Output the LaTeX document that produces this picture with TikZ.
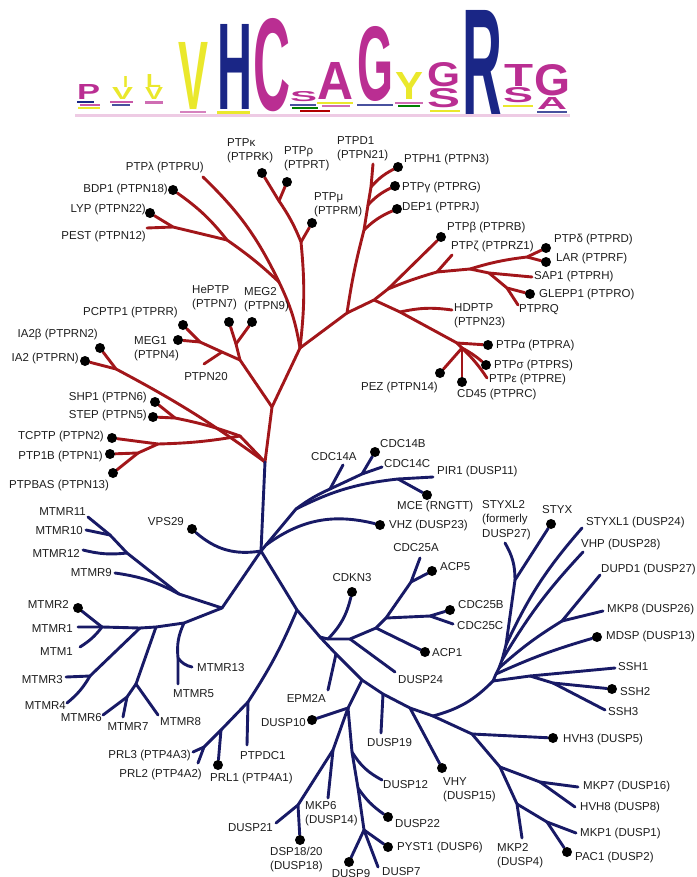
\documentclass[tikz,border=0pt]{standalone}
\usepackage{fontspec}
\setmainfont{Liberation Sans}
\usepackage{tikz}
\usetikzlibrary{positioning, backgrounds}
\definecolor{cptp} {RGB}{162, 22, 26}
\definecolor{cdsp} {RGB}{ 24, 26,102}
\definecolor{cmag} {RGB}{186, 46,146}
\definecolor{cyel} {RGB}{234,232, 44}
\definecolor{cnavy}{RGB}{ 26, 38,134}
\definecolor{ctext}{RGB}{ 30, 30, 30}
\newcommand{\logochar}[4]{\resizebox{#1pt}{#2pt}{\textcolor{#3}{\bfseries #4}}}
\tikzset{
  ptp/.style={draw=cptp, line width=2.9pt, line cap=round, line join=round},
  dsp/.style={draw=cdsp, line width=2.9pt, line cap=round, line join=round},
  leaf/.style={circle, fill=black, minimum size=10pt, inner sep=0pt},
  lbl/.style={font=\fontsize{11.5}{14}\selectfont, text=ctext, inner sep=0pt, align=left},
  glyph/.style={inner sep=0pt, anchor=south west},
}
\begin{document}
\begin{tikzpicture}[x=1pt, y=-1pt]
  \useasboundingbox (0,0) rectangle (696,877);

  % ── Sequence logo ──────────────────────────────────────────────────────────
  \node[glyph] (lg1)   at (77,100)  {\logochar{23}{15}{cmag}{P}};
  \node[glyph] (lg2a)  at (123,88)  {\logochar{5}{11}{cyel}{I}};
  \node[glyph] (lg2b)  at (112,100) {\logochar{21}{12}{cyel}{V}};
  \node[glyph] (lg3a)  at (146,88)  {\logochar{15}{13}{cyel}{L}};
  \node[glyph] (lg3b)  at (145,100) {\logochar{18}{12}{cyel}{V}};
  \node[glyph] (lg4)   at (178,110) {\logochar{30}{67}{cyel}{V}};
  \node[glyph] (lg5)   at (217,110) {\logochar{35}{85}{cnavy}{H}};
  \node[glyph] (lg6)   at (253,112) {\logochar{37}{92}{cmag}{C}};
  \node[glyph] (lg7)   at (290,102) {\logochar{27}{10}{cmag}{S}};
  \node[glyph] (lg8)   at (317,100) {\logochar{36}{37}{cmag}{A}};
  \node[glyph] (lg9)   at (357,102) {\logochar{36}{74}{cmag}{G}};
  \node[glyph] (lg10)  at (395,100) {\logochar{28}{27}{cyel}{Y}};
  \node[glyph] (lg11a) at (427,87)  {\logochar{33}{24}{cmag}{G}};
  \node[glyph] (lg11b) at (427,108) {\logochar{33}{19}{cmag}{S}};
  \node[glyph] (lg12)  at (462,117) {\logochar{40}{106}{cnavy}{R}};
  \node[glyph] (lg13a) at (504,87)  {\logochar{29}{22}{cmag}{T}};
  \node[glyph] (lg13b) at (503,103) {\logochar{30}{15}{cmag}{S}};
  \node[glyph] (lg14a) at (534,96)  {\logochar{36}{31}{cmag}{G}};
  \node[glyph] (lg14b) at (537,110) {\logochar{30}{12}{cmag}{A}};
  % small residues under the letters
  \fill[cnavy]          (77,101)  rectangle (94,103);
  \fill[cmag!80]        (80,104)  rectangle (100,106);
  \fill[cyel]           (78,107)  rectangle (100,109);
  \fill[cmag!80]        (110,101) rectangle (133,103);
  \fill[cnavy!80]       (112,104) rectangle (130,106);
  \fill[cmag!70]        (145,101) rectangle (163,104);
  \fill[cmag!60]        (180,111) rectangle (206,113);
  \fill[cyel]           (217,111) rectangle (250,114);
  \fill[cnavy!80]       (290,104) rectangle (316,106);
  \fill[green!50!black] (292,107) rectangle (318,109);
  \fill[red!70!black]   (300,110) rectangle (330,112);
  \fill[cyel]           (317,102) rectangle (353,104);
  \fill[cmag!70]        (322,105) rectangle (350,107);
  \fill[cnavy!80]       (357,104) rectangle (393,106);
  \fill[cmag!70]        (395,102) rectangle (423,104);
  \fill[green!50!black] (398,105) rectangle (420,107);
  \fill[cyel]           (430,110) rectangle (460,112);
  \fill[cyel]           (503,105) rectangle (533,107);
  \fill[cnavy!80]       (537,111) rectangle (567,113);
  \fill[cmag!25]        (75,114)  rectangle (570,117);

  % ── Leaves: PTP clade ──────────────────────────────────────────────────────
  \node[leaf] (ptpk)   at (262,173) {};
  \node[leaf] (ptprho) at (287,182) {};
  \node[leaf] (ptpmu)  at (312,223) {};
  \node[leaf] (ptph1)  at (398,167) {};
  \node[leaf] (ptpg)   at (395,186) {};
  \node[leaf] (dep1)   at (397,209) {};
  \node[leaf] (ptpb)   at (441,237) {};
  \node[leaf] (ptpd)   at (546,248) {};
  \node[leaf] (lar)    at (546,262) {};
  \node[leaf] (glepp1) at (530,294) {};
  \node[leaf] (ptpa)   at (488,345) {};
  \node[leaf] (ptps)   at (486,365) {};
  \node[leaf] (cd45)   at (462,382) {};
  \node[leaf] (pez)    at (440,373) {};
  \node[leaf] (bdp1)   at (173,190) {};
  \node[leaf] (lyp)    at (150,213) {};
  \node[leaf] (pcptp1) at (183,325) {};
  \node[leaf] (meg1)   at (178,340) {};
  \node[leaf] (heptp)  at (229,322) {};
  \node[leaf] (meg2)   at (252,322) {};
  \node[leaf] (ia2b)   at (100,348) {};
  \node[leaf] (ia2)    at (85,361)  {};
  \node[leaf] (shp1)   at (155,402) {};
  \node[leaf] (ptpn5)  at (153,417) {};
  \node[leaf] (tcptp)  at (112,438) {};
  \node[leaf] (ptp1b)  at (110,454) {};
  \node[leaf] (ptpbas) at (113,473) {};
  \coordinate (ptpl)   at (203,177);
  \coordinate (pest)   at (147,228);
  \coordinate (ptpd1)  at (373,164);
  \coordinate (ptpz)   at (452,255);
  \coordinate (sap1)   at (532,277);
  \coordinate (ptprq)  at (518,305);
  \coordinate (hdptp)  at (452,310);
  \coordinate (ptpe)   at (487,378);
  \coordinate (ptpn20) at (204,364);

  % ── Leaves: DSP clade ──────────────────────────────────────────────────────
  \node[leaf] (vps29)  at (192,529) {};
  \node[leaf] (cdc14b) at (375,452) {};
  \node[leaf] (mce)    at (427,495) {};
  \node[leaf] (vhz)    at (380,525) {};
  \node[leaf] (styx)   at (551,524) {};
  \node[leaf] (mdsp)   at (597,637) {};
  \node[leaf] (ssh2)   at (612,689) {};
  \node[leaf] (cdkn3)  at (352,592) {};
  \node[leaf] (acp5)   at (432,571) {};
  \node[leaf] (cdc25b) at (450,610) {};
  \node[leaf] (acp1)   at (425,652) {};
  \node[leaf] (mtmr2)  at (78,608)  {};
  \node[leaf] (prl1)   at (218,765) {};
  \node[leaf] (dusp10) at (312,720) {};
  \node[leaf] (vhy)    at (442,768) {};
  \node[leaf] (hvh3)   at (553,738) {};
  \node[leaf] (pac1)   at (567,852) {};
  \node[leaf] (dusp22) at (388,817) {};
  \node[leaf] (pyst1)  at (388,847) {};
  \node[leaf] (dusp9)  at (349,862) {};
  \node[leaf] (dsp18)  at (300,840) {};
  \coordinate (cdc14a) at (343,465);
  \coordinate (cdc14c) at (382,467);
  \coordinate (pir1)   at (433,477);
  \coordinate (styxl2) at (505,543);
  \coordinate (styxl1) at (582,528);
  \coordinate (vhp)    at (583,552);
  \coordinate (dupd1)  at (600,575);
  \coordinate (mkp8)   at (603,611);
  \coordinate (ssh1)   at (615,668);
  \coordinate (ssh3)   at (605,710);
  \coordinate (cdc25a) at (420,558);
  \coordinate (cdc25c) at (453,624);
  \coordinate (dusp24) at (395,672);
  \coordinate (mtmr11) at (88,517);
  \coordinate (mtmr10) at (86,530);
  \coordinate (mtmr12) at (83,550);
  \coordinate (mtmr9)  at (115,573);
  \coordinate (mtmr1)  at (78,627);
  \coordinate (mtm1)   at (80,647);
  \coordinate (mtmr3)  at (66,677);
  \coordinate (mtmr4)  at (67,703);
  \coordinate (mtmr6)  at (103,715);
  \coordinate (mtmr7)  at (123,717);
  \coordinate (mtmr8)  at (158,715);
  \coordinate (mtmr5)  at (178,684);
  \coordinate (mtmr13) at (192,667);
  \coordinate (prl3)   at (193,752);
  \coordinate (prl2)   at (198,763);
  \coordinate (ptpdc1) at (247,745);
  \coordinate (epm2a)  at (328,690);
  \coordinate (dusp19) at (381,733);
  \coordinate (mkp7)   at (578,787);
  \coordinate (hvh8)   at (575,807);
  \coordinate (mkp1)   at (576,833);
  \coordinate (mkp2)   at (522,838);
  \coordinate (dusp12) at (382,780);
  \coordinate (dusp7)  at (378,867);
  \coordinate (mkp6)   at (328,798);
  \coordinate (dusp21) at (276,823);

  % ── Junctions ──────────────────────────────────────────────────────────────
  \coordinate (r0)   at (265,462);  \coordinate (rl)   at (272,407);
  \coordinate (rt)   at (300,348);  \coordinate (jia)  at (116,369);
  \coordinate (jsh)  at (240,436);  \coordinate (jss)  at (175,418);
  \coordinate (jtc)  at (158,444);  \coordinate (jpb)  at (138,453);
  \coordinate (rlm)  at (279,282);  \coordinate (rbd)  at (227,240);
  \coordinate (rlp)  at (173,227);  \coordinate (jmu)  at (301,242);
  \coordinate (jrho) at (279,201);  \coordinate (rd)   at (347,313);
  \coordinate (jdep) at (364,230);  \coordinate (jgam) at (368,205);
  \coordinate (jh1)  at (371,187);  \coordinate (ra)   at (374,300);
  \coordinate (rb)   at (388,289);  \coordinate (jz)   at (437,272);
  \coordinate (jsg)  at (470,269);  \coordinate (jdl)  at (527,257);
  \coordinate (jsap) at (489,273);  \coordinate (jgl)  at (507,288);
  \coordinate (jhd)  at (400,312);  \coordinate (rp)   at (457,343);
  \coordinate (jpz)  at (462,348);  \coordinate (jhe)  at (240,360);
  \coordinate (jm2)  at (236,344);  \coordinate (jn20) at (222,352);
  \coordinate (jpc)  at (200,342);

  \coordinate (b0)   at (261,551);  \coordinate (bu)   at (266,545);
  \coordinate (bp)   at (296,509);  \coordinate (j14a) at (330,489);
  \coordinate (j14bc) at (362,474); \coordinate (jpm)  at (398,479);
  \coordinate (bm)   at (222,608);  \coordinate (jm9)  at (179,594);
  \coordinate (jm12) at (127,553);  \coordinate (jm10) at (110,535);
  \coordinate (jm13) at (184,623);  \coordinate (jm678) at (156,627);
  \coordinate (jm34) at (140,628);  \coordinate (jm1)  at (102,627);
  \coordinate (jm135) at (178,658); \coordinate (jm8)  at (136,684);
  \coordinate (jm67) at (127,697);  \coordinate (jm3)  at (90,676);
  \coordinate (mprl) at (297,610);  \coordinate (mcdc) at (320,637);
  \coordinate (mepm) at (336,654);  \coordinate (md0)  at (362,680);
  \coordinate (md19) at (383,694);  \coordinate (mvhy) at (410,708);
  \coordinate (m0)   at (433,716);  \coordinate (pj)   at (248,702);
  \coordinate (p1)   at (221,730);  \coordinate (p23)  at (204,747);
  \coordinate (ck)   at (328,639);  \coordinate (c24)  at (350,639);
  \coordinate (ca1)  at (376,628);  \coordinate (cbc)  at (386,618);
  \coordinate (jbc)  at (430,616);  \coordinate (c6)   at (411,582);
  \coordinate (dj)   at (348,708);  \coordinate (dk)   at (333,750);
  \coordinate (dd)   at (298,805);  \coordinate (dl)   at (352,752);
  \coordinate (dm)   at (358,788);  \coordinate (dn)   at (364,830);
  \coordinate (mk3)  at (472,734);  \coordinate (mk7)  at (500,767);
  \coordinate (jk78) at (540,782);  \coordinate (mk1)  at (517,804);
  \coordinate (jk12) at (547,822);  \coordinate (sf)   at (493,681);
  \coordinate (ss)   at (530,676);  \coordinate (s23)  at (553,683);
  \coordinate (sm)   at (496,674);  \coordinate (sd)   at (499,668);
  \coordinate (sv)   at (502,660);  \coordinate (sl)   at (506,645);
  \coordinate (sx)   at (515,580);  \coordinate (jdk)  at (562,621);

  % ── Branches ───────────────────────────────────────────────────────────────
  \begin{scope}[on background layer]
    % PTP trunk and lower groups
    \draw[ptp] (r0) -- (rl) -- (rt);
    \draw[ptp] (r0) to[bend right=4] (jia) -- (ia2);
    \draw[ptp] (jia) -- (ia2b);
    \draw[ptp] (r0) -- (jsh) to[bend right=4] (jss) -- (ptpn5);
    \draw[ptp] (jss) -- (shp1);
    \draw[ptp] (jsh) to[bend left=4] (jtc) -- (tcptp);
    \draw[ptp] (jtc) -- (jpb) -- (ptp1b);
    \draw[ptp] (jpb) -- (ptpbas);
    % PTP upper left
    \draw[ptp] (rt) to[bend right=8] (rlm) to[bend right=10] (ptpl);
    \draw[ptp] (rlm) to[bend right=4] (rbd) to[bend right=8] (bdp1);
    \draw[ptp] (rbd) -- (rlp) -- (lyp);
    \draw[ptp] (rlp) -- (pest);
    \draw[ptp] (rt) to[bend right=6] (jmu) to[bend right=6] (jrho) -- (ptpk);
    \draw[ptp] (jrho) -- (ptprho);
    \draw[ptp] (jmu) -- (ptpmu);
    % PTP right
    \draw[ptp] (rt) -- (rd) to[bend left=3] (jdep) -- (jgam) -- (jh1) -- (ptpd1);
    \draw[ptp] (jdep) to[bend left=10] (dep1);
    \draw[ptp] (jgam) to[bend left=10] (ptpg);
    \draw[ptp] (jh1) to[bend left=10] (ptph1);
    \draw[ptp] (rd) -- (ra) -- (rb) -- (ptpb);
    \draw[ptp] (rb) to[bend left=3] (jz) -- (jsg) to[bend left=5] (jdl) -- (ptpd);
    \draw[ptp] (jdl) -- (lar);
    \draw[ptp] (jz) -- (ptpz);
    \draw[ptp] (jsg) -- (jsap) -- (sap1);
    \draw[ptp] (jsap) -- (jgl) -- (glepp1);
    \draw[ptp] (jgl) -- (ptprq);
    \draw[ptp] (ra) -- (jhd) -- (rp) -- (ptpa);
    \draw[ptp] (jhd) to[bend left=10] (hdptp);
    \draw[ptp] (rp) -- (jpz) -- (pez);
    \draw[ptp] (jpz) -- (cd45);
    \draw[ptp] (jpz) to[bend left=6] (ptps);
    \draw[ptp] (jpz) to[bend left=6] (ptpe);
    % PTP middle left
    \draw[ptp] (rl) -- (jhe) -- (jm2) -- (heptp);
    \draw[ptp] (jm2) -- (meg2);
    \draw[ptp] (jhe) -- (jn20) -- (jpc) -- (pcptp1);
    \draw[ptp] (jpc) -- (meg1);
    \draw[ptp] (jn20) -- (ptpn20);

    % DSP trunk
    \draw[dsp] (r0) -- (b0);
    \draw[dsp] (b0) to[bend left=25] (vps29);
    \draw[dsp] (b0) -- (bu) to[bend left=25] (vhz);
    \draw[dsp] (bu) -- (bp) to[bend left=6] (j14a) -- (j14bc) -- (cdc14c);
    \draw[dsp] (j14a) -- (cdc14a);
    \draw[dsp] (j14bc) -- (cdc14b);
    \draw[dsp] (bp) to[bend left=10] (jpm) -- (pir1);
    \draw[dsp] (jpm) -- (mce);
    % myotubularins
    \draw[dsp] (b0) -- (bm) -- (jm9) to[bend right=10] (mtmr9);
    \draw[dsp] (jm9) -- (jm12) -- (jm10) -- (mtmr11);
    \draw[dsp] (jm10) -- (mtmr10);
    \draw[dsp] (jm12) to[bend left=10] (mtmr12);
    \draw[dsp] (bm) -- (jm13) -- (jm678) -- (jm34) -- (jm1) -- (mtmr1);
    \draw[dsp] (jm1) -- (mtmr2);
    \draw[dsp] (jm1) to[bend left=10] (mtm1);
    \draw[dsp] (jm13) to[bend right=15] (jm135) -- (mtmr5);
    \draw[dsp] (jm135) to[bend right=20] (mtmr13);
    \draw[dsp] (jm678) -- (jm8) -- (mtmr8);
    \draw[dsp] (jm8) -- (jm67) -- (mtmr6);
    \draw[dsp] (jm67) -- (mtmr7);
    \draw[dsp] (jm34) -- (jm3) -- (mtmr3);
    \draw[dsp] (jm3) to[bend left=10] (mtmr4);
    % main line
    \draw[dsp] (b0) -- (mprl) -- (mcdc) -- (mepm) -- (md0) -- (md19) -- (mvhy) -- (m0);
    \draw[dsp] (mprl) to[bend left=5] (pj) -- (p1) -- (p23) -- (prl3);
    \draw[dsp] (pj) -- (ptpdc1);
    \draw[dsp] (p1) -- (prl1);
    \draw[dsp] (p23) -- (prl2);
    \draw[dsp] (mepm) -- (epm2a);
    % CDC25 group
    \draw[dsp] (mcdc) -- (ck) -- (c24) -- (ca1) -- (cbc) -- (c6) -- (cdc25a);
    \draw[dsp] (ck) to[bend right=15] (cdkn3);
    \draw[dsp] (c24) -- (dusp24);
    \draw[dsp] (ca1) -- (acp1);
    \draw[dsp] (cbc) -- (jbc) -- (cdc25b);
    \draw[dsp] (jbc) -- (cdc25c);
    \draw[dsp] (c6) -- (acp5);
    % atypical DUSPs
    \draw[dsp] (md0) -- (dj) -- (dusp10);
    \draw[dsp] (dj) -- (dk) -- (dd) -- (dusp21);
    \draw[dsp] (dk) -- (mkp6);
    \draw[dsp] (dd) -- (dsp18);
    \draw[dsp] (dj) -- (dl) -- (dm) -- (dn) -- (dusp9);
    \draw[dsp] (dl) to[bend right=15] (dusp12);
    \draw[dsp] (dm) to[bend right=10] (dusp22);
    \draw[dsp] (dn) -- (pyst1);
    \draw[dsp] (dn) -- (dusp7);
    \draw[dsp] (md19) -- (dusp19);
    \draw[dsp] (mvhy) -- (vhy);
    % MKPs
    \draw[dsp] (m0) -- (mk3) -- (mk7) -- (mk1) -- (mkp2);
    \draw[dsp] (mk3) -- (hvh3);
    \draw[dsp] (mk7) -- (jk78) -- (mkp7);
    \draw[dsp] (jk78) -- (hvh8);
    \draw[dsp] (mk1) -- (jk12) -- (mkp1);
    \draw[dsp] (jk12) -- (pac1);
    % STYX / SSH fan
    \draw[dsp] (m0) to[bend right=15] (sf) -- (sm) -- (sd) -- (sv) -- (sl) -- (sx) -- (styx);
    \draw[dsp] (sx) to[bend right=15] (styxl2);
    \draw[dsp] (sl) to[bend left=8] (styxl1);
    \draw[dsp] (sv) to[bend left=6] (vhp);
    \draw[dsp] (sd) to[bend left=5] (jdk) -- (dupd1);
    \draw[dsp] (jdk) -- (mkp8);
    \draw[dsp] (sm) to[bend left=4] (mdsp);
    \draw[dsp] (sf) -- (ss) -- (ssh1);
    \draw[dsp] (ss) -- (s23) -- (ssh2);
    \draw[dsp] (s23) -- (ssh3);
  \end{scope}

  % ── Labels: PTP clade ──────────────────────────────────────────────────────
  \node[lbl, anchor=west] (t-ptpk)   at (227,151) {PTPκ\\(PTPRK)};
  \node[lbl, anchor=west] (t-ptprho) at (284,159) {PTPρ\\(PTPRT)};
  \node[lbl, anchor=west] (t-ptpd1)  at (337,149) {PTPD1\\(PTPN21)};
  \node[lbl, anchor=west] (t-ptpmu)  at (314,205) {PTPμ\\(PTPRM)};
  \node[lbl, anchor=east] (t-ptpl)   at (204,168) {PTPλ (PTPRU)};
  \node[lbl, anchor=east] (t-bdp1)   at (168,190) {BDP1 (PTPN18)};
  \node[lbl, anchor=east] (t-lyp)    at (146,210) {LYP (PTPN22)};
  \node[lbl, anchor=east] (t-pest)   at (146,237) {PEST (PTPN12)};
  \node[lbl, anchor=west] (t-ptph1)  at (404,160) {PTPH1 (PTPN3)};
  \node[lbl, anchor=west] (t-ptpg)   at (402,188) {PTPγ (PTPRG)};
  \node[lbl, anchor=west] (t-dep1)   at (402,208) {DEP1 (PTPRJ)};
  \node[lbl, anchor=west] (t-ptpb)   at (447,228) {PTPβ (PTPRB)};
  \node[lbl, anchor=west] (t-ptpz)   at (451,247) {PTPζ (PTPRZ1)};
  \node[lbl, anchor=west] (t-ptpd)   at (554,240) {PTPδ (PTPRD)};
  \node[lbl, anchor=west] (t-lar)    at (556,259) {LAR (PTPRF)};
  \node[lbl, anchor=west] (t-sap1)   at (534,277) {SAP1 (PTPRH)};
  \node[lbl, anchor=west] (t-glepp1) at (539,295) {GLEPP1 (PTPRO)};
  \node[lbl, anchor=west] (t-ptprq)  at (519,310) {PTPRQ};
  \node[lbl, anchor=west] (t-hdptp)  at (454,316) {HDPTP\\(PTPN23)};
  \node[lbl, anchor=west] (t-ptpa)   at (496,346) {PTPα (PTPRA)};
  \node[lbl, anchor=west] (t-ptps)   at (494,366) {PTPσ (PTPRS)};
  \node[lbl, anchor=west] (t-ptpe)   at (489,380) {PTPε (PTPRE)};
  \node[lbl, anchor=west] (t-cd45)   at (457,395) {CD45 (PTPRC)};
  \node[lbl, anchor=east] (t-pez)    at (438,388) {PEZ (PTPN14)};
  \node[lbl, anchor=west] (t-heptp)  at (192,298) {HePTP\\(PTPN7)};
  \node[lbl, anchor=west] (t-meg2)   at (244,300) {MEG2\\(PTPN9)};
  \node[lbl, anchor=east] (t-pcptp1) at (178,313) {PCPTP1 (PTPRR)};
  \node[lbl, anchor=west] (t-meg1)   at (134,349) {MEG1\\(PTPN4)};
  \node[lbl, anchor=east] (t-ia2b)   at (98,335)  {IA2β (PTPRN2)};
  \node[lbl, anchor=east] (t-ia2)    at (79,359)  {IA2 (PTPRN)};
  \node[lbl]              (t-ptpn20) at (206,377) {PTPN20};
  \node[lbl, anchor=east] (t-shp1)   at (147,398) {SHP1 (PTPN6)};
  \node[lbl, anchor=east] (t-ptpn5)  at (147,416) {STEP (PTPN5)};
  \node[lbl, anchor=east] (t-tcptp)  at (104,437) {TCPTP (PTPN2)};
  \node[lbl, anchor=east] (t-ptp1b)  at (103,457) {PTP1B (PTPN1)};
  \node[lbl, anchor=west] (t-ptpbas) at (9,486)   {PTPBAS (PTPN13)};

  % ── Labels: DSP clade ──────────────────────────────────────────────────────
  \node[lbl, anchor=east] (t-vps29)  at (184,522) {VPS29};
  \node[lbl, anchor=west] (t-cdc14a) at (311,457) {CDC14A};
  \node[lbl, anchor=west] (t-cdc14b) at (380,444) {CDC14B};
  \node[lbl, anchor=west] (t-cdc14c) at (384,464) {CDC14C};
  \node[lbl, anchor=west] (t-pir1)   at (437,472) {PIR1 (DUSP11)};
  \node[lbl, anchor=west] (t-mce)    at (397,507) {MCE (RNGTT)};
  \node[lbl, anchor=west] (t-vhz)    at (389,526) {VHZ (DUSP23)};
  \node[lbl, anchor=west, font=\fontsize{11.5}{14.5}\selectfont]
                          (t-styxl2) at (482,520) {STYXL2\\(formerly\\DUSP27)};
  \node[lbl, anchor=west] (t-styx)   at (542,510) {STYX};
  \node[lbl, anchor=west] (t-styxl1) at (586,523) {STYXL1 (DUSP24)};
  \node[lbl, anchor=west] (t-vhp)    at (581,545) {VHP (DUSP28)};
  \node[lbl, anchor=west] (t-dupd1)  at (601,570) {DUPD1 (DUSP27)};
  \node[lbl, anchor=west] (t-mkp8)   at (607,610) {MKP8 (DUSP26)};
  \node[lbl, anchor=west] (t-mdsp)   at (606,637) {MDSP (DUSP13)};
  \node[lbl, anchor=west] (t-ssh1)   at (618,667) {SSH1};
  \node[lbl, anchor=west] (t-ssh2)   at (620,692) {SSH2};
  \node[lbl, anchor=west] (t-ssh3)   at (608,712) {SSH3};
  \node[lbl]              (t-cdkn3)  at (352,578) {CDKN3};
  \node[lbl]              (t-cdc25a) at (416,548) {CDC25A};
  \node[lbl, anchor=west] (t-acp5)   at (440,567) {ACP5};
  \node[lbl, anchor=west] (t-cdc25b) at (458,605) {CDC25B};
  \node[lbl, anchor=west] (t-cdc25c) at (457,626) {CDC25C};
  \node[lbl, anchor=west] (t-acp1)   at (432,653) {ACP1};
  \node[lbl, anchor=west] (t-dusp24) at (398,680) {DUSP24};
  \node[lbl, anchor=east] (t-mtmr11) at (86,512)  {MTMR11};
  \node[lbl, anchor=east] (t-mtmr10) at (83,531)  {MTMR10};
  \node[lbl, anchor=east] (t-mtmr12) at (80,553)  {MTMR12};
  \node[lbl, anchor=east] (t-mtmr9)  at (112,573) {MTMR9};
  \node[lbl, anchor=east] (t-mtmr2)  at (69,604)  {MTMR2};
  \node[lbl, anchor=east] (t-mtmr1)  at (73,629)  {MTMR1};
  \node[lbl, anchor=east] (t-mtm1)   at (73,652)  {MTM1};
  \node[lbl, anchor=east] (t-mtmr3)  at (63,680)  {MTMR3};
  \node[lbl, anchor=east] (t-mtmr4)  at (66,706)  {MTMR4};
  \node[lbl, anchor=east] (t-mtmr6)  at (102,718) {MTMR6};
  \node[lbl]              (t-mtmr7)  at (128,727) {MTMR7};
  \node[lbl, anchor=west] (t-mtmr8)  at (160,722) {MTMR8};
  \node[lbl, anchor=west] (t-mtmr5)  at (173,694) {MTMR5};
  \node[lbl, anchor=west] (t-mtmr13) at (197,668) {MTMR13};
  \node[lbl, anchor=east] (t-prl3)   at (191,756) {PRL3 (PTP4A3)};
  \node[lbl, anchor=east] (t-prl2)   at (202,775) {PRL2 (PTP4A2)};
  \node[lbl, anchor=west] (t-prl1)   at (210,779) {PRL1 (PTP4A1)};
  \node[lbl, anchor=west] (t-ptpdc1) at (240,756) {PTPDC1};
  \node[lbl, anchor=east] (t-epm2a)  at (326,698) {EPM2A};
  \node[lbl, anchor=east] (t-dusp10) at (306,723) {DUSP10};
  \node[lbl, anchor=west] (t-dusp19) at (367,743) {DUSP19};
  \node[lbl, anchor=west] (t-vhy)    at (443,790) {VHY\\(DUSP15)};
  \node[lbl, anchor=west] (t-hvh3)   at (563,740) {HVH3 (DUSP5)};
  \node[lbl, anchor=west] (t-mkp7)   at (583,787) {MKP7 (DUSP16)};
  \node[lbl, anchor=west] (t-hvh8)   at (580,808) {HVH8 (DUSP8)};
  \node[lbl, anchor=west] (t-mkp1)   at (580,834) {MKP1 (DUSP1)};
  \node[lbl, anchor=west] (t-pac1)   at (575,858) {PAC1 (DUSP2)};
  \node[lbl, anchor=west] (t-mkp2)   at (497,856) {MKP2\\(DUSP4)};
  \node[lbl, anchor=west] (t-dusp12) at (383,785) {DUSP12};
  \node[lbl, anchor=west] (t-dusp22) at (395,824) {DUSP22};
  \node[lbl, anchor=west] (t-pyst1)  at (397,848) {PYST1 (DUSP6)};
  \node[lbl, anchor=west] (t-dusp7)  at (382,872) {DUSP7};
  \node[lbl]              (t-dusp9)  at (351,874) {DUSP9};
  \node[lbl, anchor=west] (t-mkp6)   at (305,814) {MKP6\\(DUSP14)};
  \node[lbl, anchor=east] (t-dusp21) at (273,828) {DUSP21};
  \node[lbl, anchor=west] (t-dsp18)  at (270,860) {DSP18/20\\(DUSP18)};
\end{tikzpicture}
\end{document}
